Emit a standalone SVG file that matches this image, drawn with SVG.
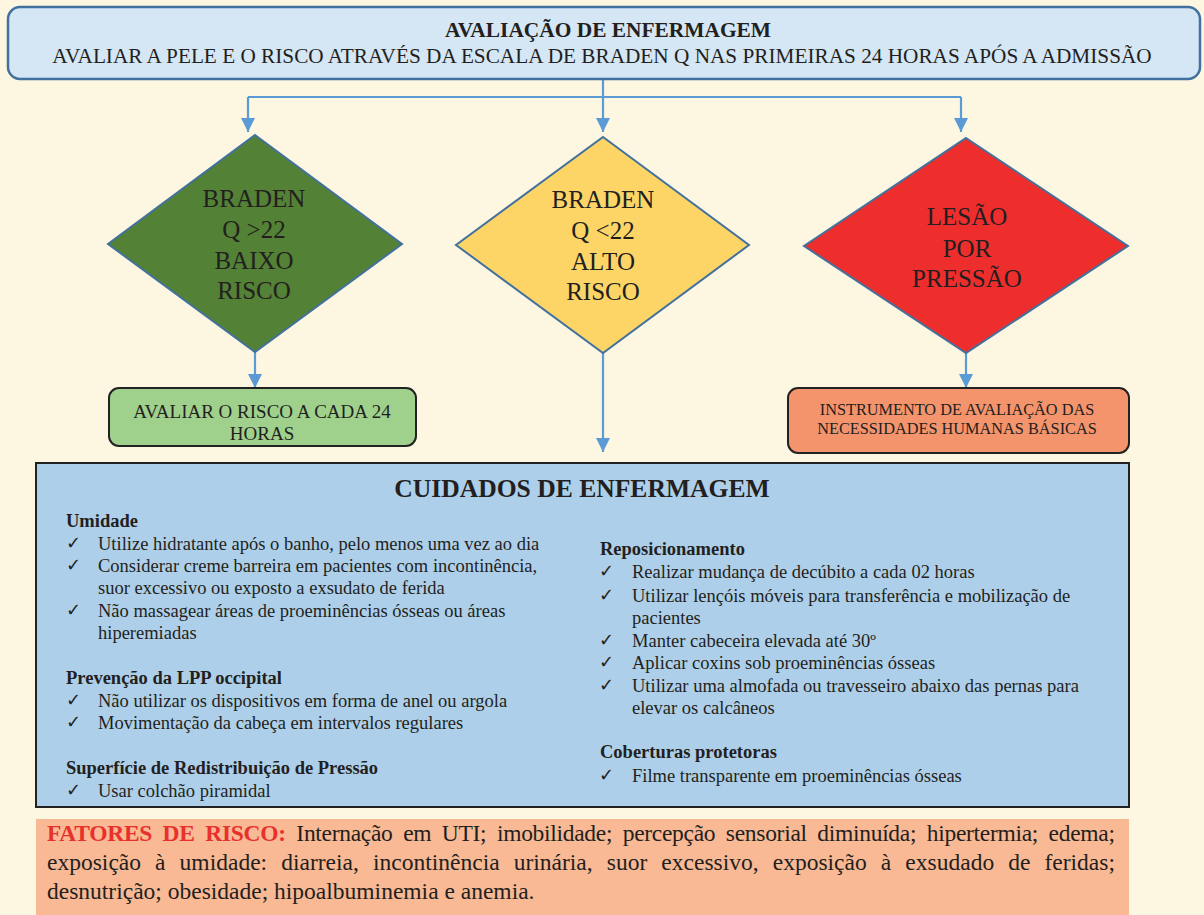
<svg xmlns="http://www.w3.org/2000/svg" width="1204" height="915" viewBox="0 0 1204 915">
<defs>
<marker id="arr" markerUnits="userSpaceOnUse" markerWidth="14" markerHeight="14" refX="14" refY="7" orient="auto">
<path d="M0,0 L14,7 L0,14 z" fill="#5b9bd5"/>
</marker>
<style>
.t{font-family:"Liberation Serif","Times New Roman",serif;fill:#231f20}
.b{font-weight:bold}
.c{text-anchor:middle}
.conn{stroke:#5b9bd5;stroke-width:2.2;fill:none}
.dia{stroke:#41719c;stroke-width:2}
.box{stroke:#222;stroke-width:2}
.body{font-size:18.5px}
.chk{font-family:"DejaVu Sans",sans-serif;font-size:18px;fill:#231f20}
</style>
</defs>
<rect width="1204" height="915" fill="#fdf6e1"/>

<g id="connectors">
<path class="conn" d="M603,79 V132" marker-end="url(#arr)"/>
<path class="conn" d="M248,97 H961"/>
<path class="conn" d="M248,97 V132" marker-end="url(#arr)"/>
<path class="conn" d="M961,97 V132" marker-end="url(#arr)"/>
<path class="conn" d="M255,352 V388" marker-end="url(#arr)"/>
<path class="conn" d="M603,353 V452" marker-end="url(#arr)"/>
<path class="conn" d="M966,353 V388" marker-end="url(#arr)"/>
</g>

<g id="avaliacao">
<rect x="8" y="7" width="1192" height="72" rx="12" fill="#d5e6f4" stroke="#41719c" stroke-width="2.5"/>
<text class="t b c" x="608" y="37" font-size="21.4">AVALIAÇÃO DE ENFERMAGEM</text>
<text class="t c" x="602" y="63" font-size="21.25">AVALIAR A PELE E O RISCO ATRAVÉS DA ESCALA DE BRADEN Q NAS PRIMEIRAS 24 HORAS APÓS A ADMISSÃO</text>
</g>

<g id="baixo-risco">
<polygon class="dia" points="255,135 402,244 255,352 108,244" fill="#538135"/>
<text class="t c" font-size="25" x="254"><tspan x="254" y="207">BRADEN</tspan><tspan x="254" y="238">Q &gt;22</tspan><tspan x="254" y="269">BAIXO</tspan><tspan x="254" y="299">RISCO</tspan></text>
</g>

<g id="alto-risco">
<polygon class="dia" points="603,137 749,245 603,353 456,245" fill="#fdd567"/>
<text class="t c" font-size="25" x="603"><tspan x="603" y="208">BRADEN</tspan><tspan x="603" y="239">Q &lt;22</tspan><tspan x="603" y="270">ALTO</tspan><tspan x="603" y="300">RISCO</tspan></text>
</g>

<g id="lesao">
<polygon class="dia" points="966,138 1128,246 966,353 804,246" fill="#ed2e2d"/>
<text class="t c" font-size="25" x="967"><tspan x="967" y="225">LESÃO</tspan><tspan x="967" y="257">POR</tspan><tspan x="967" y="287">PRESSÃO</tspan></text>
</g>

<g id="avaliar-risco">
<rect class="box" x="109" y="388" width="307" height="58" rx="10" fill="#9fd18d"/>
<text class="t c" font-size="19"><tspan x="262" y="418">AVALIAR O RISCO A CADA 24</tspan><tspan x="262" y="440">HORAS</tspan></text>
</g>

<g id="instrumento">
<rect class="box" x="788" y="388" width="341" height="65" rx="10" fill="#f4946d"/>
<text class="t c" font-size="16.3"><tspan x="957" y="415">INSTRUMENTO DE AVALIAÇÃO DAS</tspan><tspan x="957" y="434">NECESSIDADES HUMANAS BÁSICAS</tspan></text>
</g>

<g id="cuidados">
<rect class="box" x="36" y="463" width="1093" height="344" fill="#aecfe9"/>
<text class="t b c" x="582" y="497" font-size="25.6">CUIDADOS DE ENFERMAGEM</text>

<text class="t b body" x="66" y="527">Umidade</text>
<text class="chk" x="66" y="549">✓</text>
<text class="t body" x="98" y="550">Utilize hidratante após o banho, pelo menos uma vez ao dia</text>
<text class="chk" x="66" y="571">✓</text>
<text class="t body" x="98" y="572">Considerar creme barreira em pacientes com incontinência,</text>
<text class="t body" x="98" y="594">suor excessivo ou exposto a exsudato de ferida</text>
<text class="chk" x="66" y="616">✓</text>
<text class="t body" x="98" y="617">Não massagear áreas de proeminências ósseas ou áreas</text>
<text class="t body" x="98" y="639">hiperemiadas</text>

<text class="t b body" x="66" y="684">Prevenção da LPP occipital</text>
<text class="chk" x="66" y="706">✓</text>
<text class="t body" x="98" y="707">Não utilizar os dispositivos em forma de anel ou argola</text>
<text class="chk" x="66" y="728">✓</text>
<text class="t body" x="98" y="729">Movimentação da cabeça em intervalos regulares</text>

<text class="t b body" x="66" y="774">Superfície de Redistribuição de Pressão</text>
<text class="chk" x="66" y="796">✓</text>
<text class="t body" x="98" y="797">Usar colchão piramidal</text>

<text class="t b body" x="600" y="555">Reposicionamento</text>
<text class="chk" x="599" y="577">✓</text>
<text class="t body" x="632" y="578">Realizar mudança de decúbito a cada 02 horas</text>
<text class="chk" x="599" y="601">✓</text>
<text class="t body" x="632" y="602">Utilizar lençóis móveis para transferência e mobilização de</text>
<text class="t body" x="632" y="624">pacientes</text>
<text class="chk" x="599" y="646">✓</text>
<text class="t body" x="632" y="647">Manter cabeceira elevada até 30º</text>
<text class="chk" x="599" y="668">✓</text>
<text class="t body" x="632" y="669">Aplicar coxins sob proeminências ósseas</text>
<text class="chk" x="599" y="691">✓</text>
<text class="t body" x="632" y="692">Utilizar uma almofada ou travesseiro abaixo das pernas para</text>
<text class="t body" x="632" y="714">elevar os calcâneos</text>

<text class="t b body" x="600" y="758">Coberturas protetoras</text>
<text class="chk" x="599" y="781">✓</text>
<text class="t body" x="632" y="782">Filme transparente em proeminências ósseas</text>
</g>

<g id="fatores">
<rect x="36" y="819" width="1093" height="96" fill="#f8b994"/>
<text class="t" x="47" y="841" font-size="23.5" word-spacing="5" textLength="1068" lengthAdjust="spacing"><tspan class="b" fill="#e8302c">FATORES DE RISCO:</tspan> Internação em UTI; imobilidade; percepção sensorial diminuída; hipertermia; edema;</text>
<text class="t" x="47" y="870" font-size="23.5" word-spacing="8.2" textLength="1068" lengthAdjust="spacing">exposição à umidade: diarreia, incontinência urinária, suor excessivo, exposição à exsudado de feridas;</text>
<text class="t" x="47" y="899" font-size="23.5">desnutrição; obesidade; hipoalbuminemia e anemia.</text>
</g>
</svg>
